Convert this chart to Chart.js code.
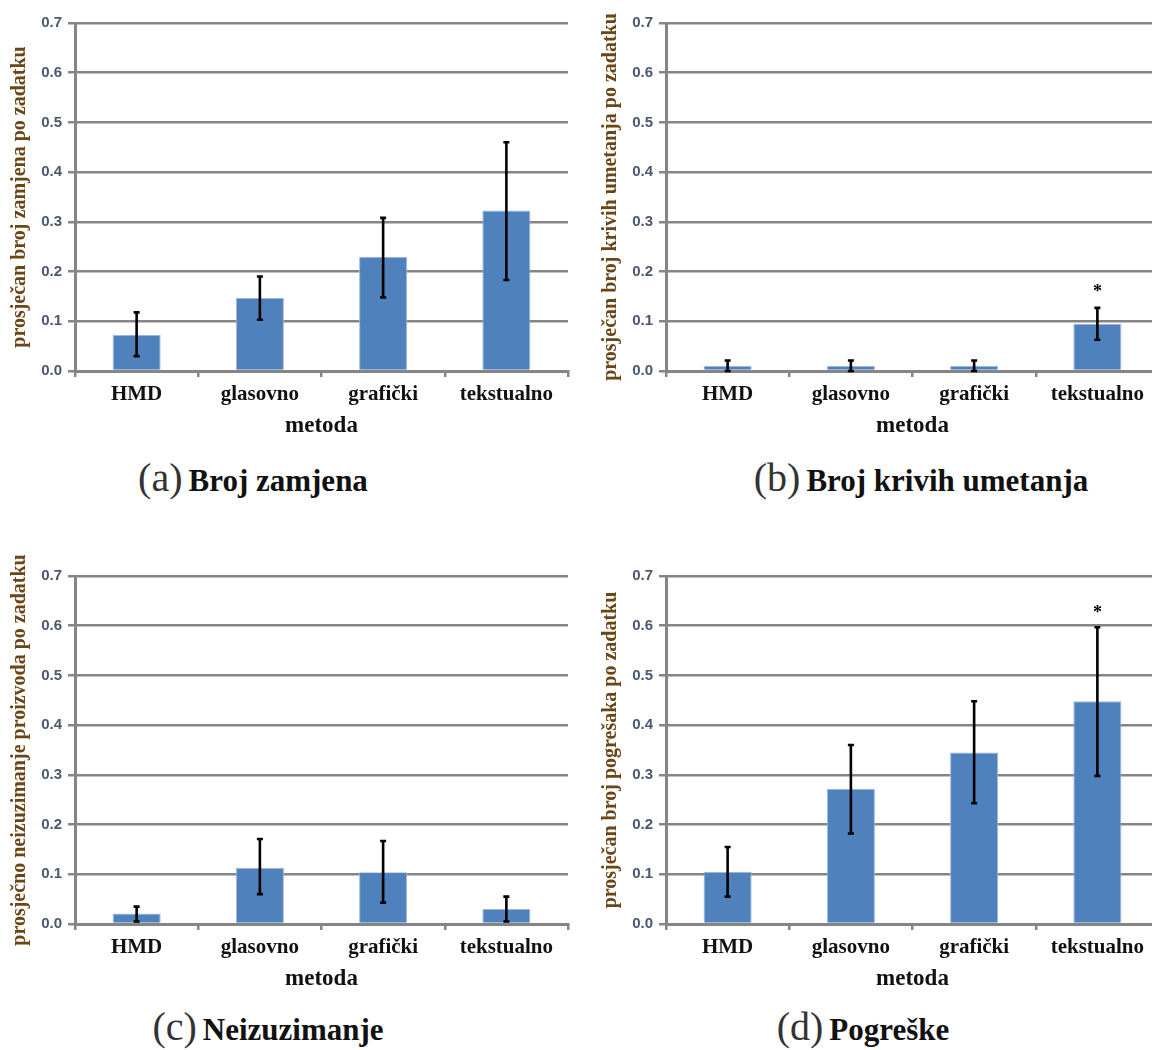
<!DOCTYPE html>
<html>
<head>
<meta charset="utf-8">
<script src="https://cdn.jsdelivr.net/npm/chart.js@4.4.0/dist/chart.umd.min.js"></script>
<style>
    html, body { margin: 0; padding: 0; background: #fff; width: 1152px; height: 1050px; overflow: hidden; }
    .panel { position: absolute; width: 576px; height: 440px; }
    .caption { position: absolute; width: 500px; text-align: center; font-family: "Liberation Serif", serif; color: #111; white-space: nowrap; }
    .caption .lbl { font-size: 40px; font-weight: normal; color: #333; margin-right: 6px; }
    .caption .ttl { font-size: 31px; font-weight: bold; }
</style>
</head>
<body>
<div class="panel" style="left:0;top:0"><canvas id="chart-a"></canvas></div>
<div class="panel" style="left:591px;top:0"><canvas id="chart-b"></canvas></div>
<div class="panel" style="left:0;top:553px"><canvas id="chart-c"></canvas></div>
<div class="panel" style="left:591px;top:553px"><canvas id="chart-d"></canvas></div>

<div class="caption" style="left:3px;top:454px"><span class="lbl">(a)</span><span class="ttl">Broj zamjena</span></div>
<div class="caption" style="left:671px;top:454px"><span class="lbl">(b)</span><span class="ttl">Broj krivih umetanja</span></div>
<div class="caption" style="left:18px;top:1003px"><span class="lbl">(c)</span><span class="ttl">Neizuzimanje</span></div>
<div class="caption" style="left:613px;top:1003px"><span class="lbl">(d)</span><span class="ttl">Pogreške</span></div>

<script>
const categories = ['HMD', 'glasovno', 'grafički', 'tekstualno'];
const yTicks = [0, 0.1, 0.2, 0.3, 0.4, 0.5, 0.6, 0.7];

// (a) Broj zamjena
const meansA = [0.073, 0.147, 0.230, 0.323];
const lowA = [0.030, 0.103, 0.148, 0.183];
const highA = [0.118, 0.190, 0.308, 0.460];
const starsA = [null, null, null, null];

// (b) Broj krivih umetanja
const meansB = [0.010, 0.010, 0.010, 0.095];
const lowB = [0.000, 0.000, 0.000, 0.063];
const highB = [0.021, 0.021, 0.021, 0.127];
const starsB = [null, null, null, 0.167];

// (c) Neizuzimanje
const meansC = [0.021, 0.113, 0.104, 0.030];
const lowC = [0.005, 0.060, 0.043, 0.005];
const highC = [0.035, 0.171, 0.167, 0.055];
const starsC = [null, null, null, null];

// (d) Pogreške
const meansD = [0.105, 0.272, 0.345, 0.448];
const lowD = [0.055, 0.182, 0.243, 0.298];
const highD = [0.155, 0.360, 0.448, 0.597];
const starsD = [null, null, null, 0.632];

const errorBars = {
    id: 'errorBars',
    afterDatasetsDraw(chart, args, opts) {
        const ctx = chart.ctx;
        const x = chart.scales.x, y = chart.scales.y;
        ctx.save();
        ctx.strokeStyle = '#000';
        ctx.lineWidth = 2.6;
        opts.low.forEach((lo, i) => {
            const px = x.getPixelForValue(i);
            const yl = y.getPixelForValue(lo);
            const yh = y.getPixelForValue(opts.high[i]);
            ctx.beginPath();
            ctx.moveTo(px, yl); ctx.lineTo(px, yh);
            ctx.moveTo(px - 3, yl); ctx.lineTo(px + 3, yl);
            ctx.moveTo(px - 3, yh); ctx.lineTo(px + 3, yh);
            ctx.stroke();
        });
        ctx.fillStyle = '#000';
        ctx.font = 'bold 18px "Liberation Serif"';
        ctx.textAlign = 'center';
        ctx.textBaseline = 'middle';
        opts.stars.forEach((s, i) => {
            if (s === null) return;
            ctx.fillText('*', x.getPixelForValue(i), y.getPixelForValue(s) + 4);
        });
        ctx.restore();
    }
};

function makeChart(id, means, lows, highs, stars, yTitle) {
    new Chart(document.getElementById(id), {
        type: 'bar',
        data: {
            labels: categories,
            datasets: [{
                data: means,
                backgroundColor: '#4f81bd',
                borderColor: '#9db8db',
                borderWidth: 1,
                categoryPercentage: 1,
                barPercentage: 0.39
            }]
        },
        options: {
            responsive: true,
            maintainAspectRatio: false,
            animation: false,
            layout: { padding: { top: 23, right: 8, left: 0, bottom: 0 } },
            plugins: {
                legend: { display: false },
                tooltip: { enabled: false },
                errorBars: { low: lows, high: highs, stars: stars }
            },
            scales: {
                x: {
                    afterFit: s => { s.height = 69; },
                    grid: { drawOnChartArea: false, drawTicks: true, tickLength: 6, color: '#858585', lineWidth: 2.5 },
                    border: { color: '#858585', width: 3 },
                    ticks: { color: '#111', padding: 5, font: { family: 'Liberation Serif', size: 21, weight: 'bold' } },
                    title: { display: true, text: 'metoda', color: '#111', padding: 0, font: { family: 'Liberation Serif', size: 23, weight: 'bold' } }
                },
                y: {
                    min: 0,
                    max: 0.7,
                    afterFit: s => { s.width = 75; },
                    afterBuildTicks: s => { s.ticks = yTicks.map(v => ({ value: v })); },
                    grid: { color: '#858585', lineWidth: 2.5, tickLength: 7 },
                    border: { color: '#858585', width: 3 },
                    ticks: {
                        color: '#4a5870',
                        padding: 6,
                        font: { family: 'Liberation Sans', size: 15, weight: 'bold' },
                        callback: v => v.toFixed(1)
                    },
                    title: { display: true, text: yTitle, color: '#6b4515', padding: { top: 8, bottom: 0 }, font: { family: 'Liberation Serif', size: 20, weight: 'bold' } }
                }
            }
        },
        plugins: [errorBars]
    });
}

makeChart('chart-a', meansA, lowA, highA, starsA, 'prosječan broj zamjena po zadatku');
makeChart('chart-b', meansB, lowB, highB, starsB, 'prosječan broj krivih umetanja po zadatku');
makeChart('chart-c', meansC, lowC, highC, starsC, 'prosječno neizuzimanje proizvoda po zadatku');
makeChart('chart-d', meansD, lowD, highD, starsD, 'prosječan broj pogrešaka po zadatku');
</script>
</body>
</html>
